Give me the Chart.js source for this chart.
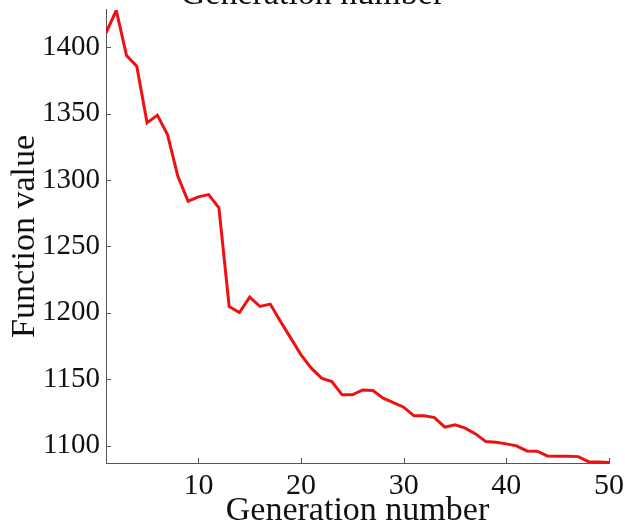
<!DOCTYPE html>
<html>
<head>
<meta charset="utf-8">
<script src="https://cdn.jsdelivr.net/npm/chart.js@4.4.1/dist/chart.umd.min.js"></script>
<style>
  html, body { margin: 0; padding: 0; background: #fff; }
  #wrap { position: relative; width: 625px; height: 528px; overflow: hidden; }
  #wrap canvas { position: absolute; left: 0; top: -20px; }
</style>
</head>
<body>
<div id="wrap"><canvas id="gaChart" width="625" height="548"></canvas></div>
<script>
// generation numbers (x) and best function value per generation (y)
var generations = [1, 2, 3, 4, 5, 6, 7, 8, 9, 10,
    11, 12, 13, 14, 15, 16, 17, 18, 19, 20,
    21, 22, 23, 24, 25, 26, 27, 28, 29, 30,
    31, 32, 33, 34, 35, 36, 37, 38, 39, 40,
    41, 42, 43, 44, 45, 46, 47, 48, 49, 50];
var functionValues = [1410.8, 1427.7, 1393.7, 1385.7, 1343.0, 1348.8, 1334.0, 1302.8, 1284.0, 1287.3,
    1289.0, 1279.0, 1204.8, 1200.3, 1211.9, 1204.8, 1206.6, 1193.5, 1181.0, 1168.4,
    1158.4, 1150.9, 1148.3, 1138.3, 1138.3, 1142.0, 1141.5, 1135.8, 1132.5, 1129.0,
    1122.5, 1122.5, 1121.2, 1114.0, 1115.7, 1113.2, 1108.9, 1103.1, 1102.6, 1101.4,
    1099.9, 1096.1, 1095.9, 1092.3, 1092.1, 1092.1, 1091.8, 1088.0, 1087.8, 1087.3];
var xTicks = [10, 20, 30, 40, 50];
var yTicks = [1100, 1150, 1200, 1250, 1300, 1350, 1400];

var serif = '"Liberation Serif", "Times New Roman", serif';

// ticks pointing into the plot, like the matlab figure
var inwardTicks = {
    id: 'inwardTicks',
    afterDraw: function(chart) {
        var ctx = chart.ctx;
        var area = chart.chartArea;
        var xs = chart.scales.x, ys = chart.scales.y;
        ctx.save();
        ctx.strokeStyle = '#555';
        ctx.lineWidth = 1;
        ctx.beginPath();
        xTicks.forEach(function(v) {
            var px = Math.round(xs.getPixelForValue(v)) + 0.5;
            ctx.moveTo(px, area.bottom);
            ctx.lineTo(px, area.bottom - 5);
        });
        yTicks.forEach(function(v) {
            var py = Math.round(ys.getPixelForValue(v)) + 0.5;
            ctx.moveTo(area.left, py);
            ctx.lineTo(area.left + 5, py);
        });
        ctx.stroke();
        ctx.restore();
    }
};

var ctx = document.getElementById('gaChart').getContext('2d');
var gaChart = new Chart(ctx, {
    type: 'line',
    data: {
        datasets: [{
            data: generations.map(function(g, i) { return {x: g, y: functionValues[i]}; }),
            borderColor: '#ee1111',
            borderWidth: 3,
            pointRadius: 0,
            tension: 0,
            fill: false
        }]
    },
    options: {
        responsive: false,
        animation: false,
        layout: { padding: { left: 0, right: 0, top: 0, bottom: 0 } },
        plugins: {
            legend: { display: false },
            tooltip: { enabled: false },
            title: {
                display: true,
                text: 'Generation number',
                color: '#111',
                font: { family: serif, size: 34, weight: 'normal', lineHeight: 0.88 },
                padding: { top: 0, bottom: 0 }
            }
        },
        scales: {
            x: {
                type: 'linear',
                min: 1,
                max: 50,
                afterFit: function(scale) {
                    scale.height = 65;
                    scale.paddingRight = 16;
                },
                afterBuildTicks: function(scale) {
                    scale.ticks = xTicks.map(function(v) { return {value: v}; });
                },
                grid: { display: false, drawTicks: false },
                border: { display: true, color: '#555', width: 1 },
                ticks: {
                    color: '#111',
                    padding: 5,
                    maxRotation: 0,
                    font: { family: serif, size: 30 },
                    callback: function(v) { return String(v); }
                },
                title: {
                    display: true,
                    text: 'Generation number',
                    color: '#111',
                    font: { family: serif, size: 34, lineHeight: 1 },
                    padding: { top: 0, bottom: 0 }
                }
            },
            y: {
                type: 'linear',
                min: 1087,
                max: 1428,
                afterFit: function(scale) { scale.width = 106; },
                afterBuildTicks: function(scale) {
                    scale.ticks = yTicks.map(function(v) { return {value: v}; });
                },
                grid: { display: false, drawTicks: false },
                border: { display: true, color: '#555', width: 1 },
                ticks: {
                    color: '#111',
                    padding: 6,
                    font: { family: serif, size: 29 },
                    callback: function(v) { return String(v); }
                },
                title: {
                    display: true,
                    text: 'Function value',
                    color: '#111',
                    font: { family: serif, size: 34, lineHeight: 1 },
                    padding: { top: 8, bottom: 0 }
                }
            }
        }
    },
    plugins: [inwardTicks]
});
</script>
</body>
</html>
